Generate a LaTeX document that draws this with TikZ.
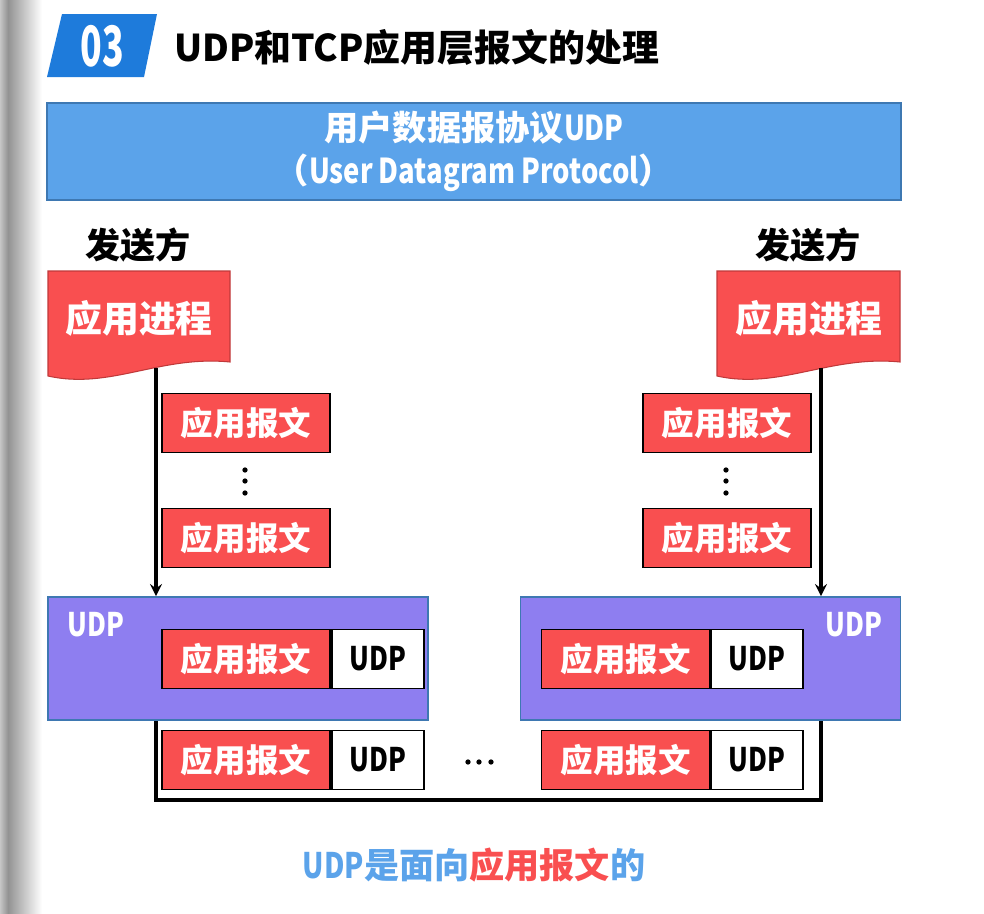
\documentclass[tikz,border=0pt]{standalone}
\usepackage{fontspec}
\usepackage{graphicx}
\setmainfont{Noto Sans CJK SC}
\usetikzlibrary{shapes.geometric, arrows, positioning}

\definecolor{badgeblue}{HTML}{1E7BDB}
\definecolor{topblue}{HTML}{5BA3EA}
\definecolor{frameblue}{HTML}{3E78B2}
\definecolor{appred}{HTML}{F94F50}
\definecolor{procborder}{HTML}{C0393A}
\definecolor{layerpurple}{HTML}{8E7EF0}

\newcommand{\nrw}[1]{\scalebox{0.8}[1]{#1}}
\newcommand{\fsz}[1]{\fontsize{#1}{#1}\selectfont}

\tikzstyle{arrow} = [line width=2pt,->,>=stealth]
\tikzstyle{bus} = [line width=2pt]
\tikzstyle{msg} = [rectangle, minimum width=3.36cm, minimum height=1.18cm, inner sep=0pt, text centered, draw=black, line width=1pt, fill=appred, text=white, font=\bfseries\fsz{18.5}]
\tikzstyle{hdr} = [rectangle, minimum width=1.84cm, minimum height=1.18cm, inner sep=0pt, text centered, draw=black, line width=1pt, fill=white, text=black, font=\bfseries\fsz{18.5}]
\tikzstyle{udplayer} = [rectangle, minimum width=7.6cm, minimum height=2.46cm, draw=frameblue, line width=1pt, fill=layerpurple]
\tikzstyle{layertext} = [text=white, font=\bfseries\fsz{18.5}]
\tikzstyle{sidetext} = [font=\bfseries\fsz{20}]
\tikzstyle{proctext} = [text=white, font=\bfseries\fsz{21}]
\tikzstyle{procshape} = [fill=appred, draw=procborder, line width=0.6pt]

\begin{document}
\begin{tikzpicture}[x=0.02cm, y=-0.02cm, node distance=2cm]
\useasboundingbox (0,0) rectangle (984,913);

% Page edge shadow
\shade [left color=gray!45, right color=gray!85] (0,0) rectangle (8,913);
\shade [left color=gray!85, right color=white] (8,0) rectangle (42,913);

% Title
\fill [badgeblue] (62,14) -- (157,14) -- (144,77) -- (47,77) -- cycle;
\node (num) [text=white, font=\bfseries\fsz{26}] at (102,46) {\scalebox{0.78}[1.22]{03}};
\node (title) [anchor=west, font=\bfseries\fsz{21}] at (168,47) {UDP和TCP应用层报文的处理};

% Protocol banner
\node (banner) [rectangle, minimum width=17.08cm, minimum height=1.94cm, draw=frameblue, line width=1pt, fill=topblue, text=white, align=center, font=\bfseries\fontsize{19.5}{24.4}\selectfont] at (474,151.5) {\raisebox{-2pt}{用户数据报协议\nrw{UDP}}\\\raisebox{-2pt}{（\nrw{User Datagram Protocol}）}};

% Senders
\node (send_l) [sidetext] at (138,245) {发送方};
\node (send_r) [sidetext] at (808,245) {发送方};

% Application processes
\draw [procshape] (48,271) -- (230,271) -- (230,362) .. controls (160,355) and (110,390) .. (48,376) -- cycle;
\draw [procshape] (717,271) -- (900,271) -- (900,362) .. controls (830,355) and (779,390) .. (717,376) -- cycle;
\node (proc_l) [proctext] at (139,318) {应用进程};
\node (proc_r) [proctext] at (809,318) {应用进程};
\coordinate (out_l) at (156,368);
\coordinate (out_r) at (821,368);

% Message stacks
\node (msg_l1) [msg] at (246,423) {应用报文};
\node (msg_l2) [msg] at (246,538) {应用报文};
\node (msg_r1) [msg] at (727,423) {应用报文};
\node (msg_r2) [msg] at (727,538) {应用报文};
\foreach \y in {470,481,493} {
  \fill (245,\y) circle (1.5pt);
  \fill (726,\y) circle (1.5pt);
}

% UDP layers
\node (layer_l) [udplayer] at (238,658.5) {};
\node (layer_r) [udplayer] at (710.5,658.5) {};
\node (tag_l) [layertext] at (96,625) {\nrw{UDP}};
\node (tag_r) [layertext] at (854,625) {\nrw{UDP}};

% Datagrams
\node (seg_l1) [msg] at (246,659) {应用报文};
\node (hdr_l1) [hdr, right=0pt of seg_l1] {\nrw{UDP}};
\node (seg_r1) [msg] at (625.5,659) {应用报文};
\node (hdr_r1) [hdr, right=0pt of seg_r1] {\nrw{UDP}};
\node (seg_l2) [msg] at (246,760) {应用报文};
\node (hdr_l2) [hdr, right=0pt of seg_l2] {\nrw{UDP}};
\node (seg_r2) [msg] at (625.5,760) {应用报文};
\node (hdr_r2) [hdr, right=0pt of seg_r2] {\nrw{UDP}};
\foreach \x in {468,479,491}
  \fill (\x,762) circle (1.5pt);

% Summary
\node (summary) [font=\bfseries\fsz{20}] at (474,865) {\textcolor{topblue}{\nrw{UDP}是面向}\textcolor{appred}{应用报文}\textcolor{topblue}{的}};

% Connecting the nodes
\draw [arrow] (out_l) -- (out_l |- layer_l.north);
\draw [arrow] (out_r) -- (out_r |- layer_r.north);
\coordinate (bus_mid) at (480,800);
\draw [bus] (out_l |- layer_l.south) |- (bus_mid) -| (out_r |- layer_r.south);

\end{tikzpicture}
\end{document}
